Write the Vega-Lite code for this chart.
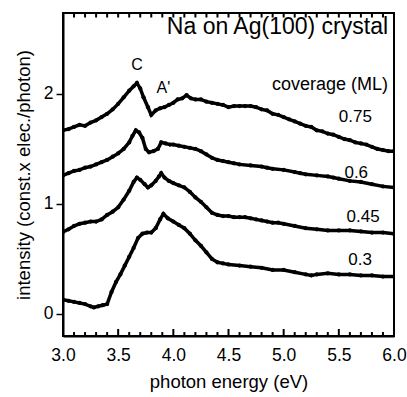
{
  "$schema": "https://vega.github.io/schema/vega-lite/v6.json",
  "width": 331,
  "height": 323,
  "autosize": {"type": "none"},
  "padding": {"left": 63, "top": 13, "right": 13, "bottom": 61},
  "background": "white",
  "config": {
    "view": {"stroke": "black", "strokeWidth": 2},
    "font": "Liberation Sans",
    "axis": {"domainColor": "black", "tickColor": "black", "labelColor": "black", "titleColor": "black", "grid": false, "labelFont": "Liberation Sans", "titleFont": "Liberation Sans", "titleFontWeight": "normal"}
  },
  "datasets": {
    "ticks": [
      {"e":3.1,"k":"minor"},{"e":3.2,"k":"minor"},{"e":3.3,"k":"minor"},{"e":3.4,"k":"minor"},{"e":3.5,"k":"major"},{"e":3.6,"k":"minor"},{"e":3.7,"k":"minor"},{"e":3.8,"k":"minor"},{"e":3.9,"k":"minor"},{"e":4.0,"k":"major"},{"e":4.1,"k":"minor"},{"e":4.2,"k":"minor"},{"e":4.3,"k":"minor"},{"e":4.4,"k":"minor"},{"e":4.5,"k":"major"},{"e":4.6,"k":"minor"},{"e":4.7,"k":"minor"},{"e":4.8,"k":"minor"},{"e":4.9,"k":"minor"},{"e":5.0,"k":"major"},{"e":5.1,"k":"minor"},{"e":5.2,"k":"minor"},{"e":5.3,"k":"minor"},{"e":5.4,"k":"minor"},{"e":5.5,"k":"major"},{"e":5.6,"k":"minor"},{"e":5.7,"k":"minor"},{"e":5.8,"k":"minor"},{"e":5.9,"k":"minor"}
    ],
    "spectra": [
      {"c":"0.75","e":3.00,"i":1.67},{"c":"0.75","e":3.05,"i":1.68},{"c":"0.75","e":3.10,"i":1.70},{"c":"0.75","e":3.15,"i":1.72},{"c":"0.75","e":3.20,"i":1.71},{"c":"0.75","e":3.25,"i":1.74},{"c":"0.75","e":3.30,"i":1.76},{"c":"0.75","e":3.35,"i":1.79},{"c":"0.75","e":3.40,"i":1.82},{"c":"0.75","e":3.45,"i":1.86},{"c":"0.75","e":3.50,"i":1.91},{"c":"0.75","e":3.55,"i":1.97},{"c":"0.75","e":3.60,"i":2.03},{"c":"0.75","e":3.64,"i":2.07},{"c":"0.75","e":3.67,"i":2.10},{"c":"0.75","e":3.70,"i":2.05},{"c":"0.75","e":3.73,"i":1.97},{"c":"0.75","e":3.77,"i":1.88},{"c":"0.75","e":3.80,"i":1.81},{"c":"0.75","e":3.84,"i":1.85},{"c":"0.75","e":3.88,"i":1.87},{"c":"0.75","e":3.92,"i":1.88},{"c":"0.75","e":3.96,"i":1.90},{"c":"0.75","e":4.00,"i":1.92},{"c":"0.75","e":4.04,"i":1.95},{"c":"0.75","e":4.08,"i":1.96},{"c":"0.75","e":4.12,"i":1.99},{"c":"0.75","e":4.16,"i":1.96},{"c":"0.75","e":4.20,"i":1.95},{"c":"0.75","e":4.25,"i":1.95},{"c":"0.75","e":4.30,"i":1.93},{"c":"0.75","e":4.35,"i":1.92},{"c":"0.75","e":4.40,"i":1.91},{"c":"0.75","e":4.45,"i":1.90},{"c":"0.75","e":4.50,"i":1.88},{"c":"0.75","e":4.55,"i":1.89},{"c":"0.75","e":4.60,"i":1.89},{"c":"0.75","e":4.65,"i":1.89},{"c":"0.75","e":4.70,"i":1.89},{"c":"0.75","e":4.75,"i":1.88},{"c":"0.75","e":4.80,"i":1.86},{"c":"0.75","e":4.85,"i":1.85},{"c":"0.75","e":4.90,"i":1.82},{"c":"0.75","e":4.95,"i":1.81},{"c":"0.75","e":5.00,"i":1.79},{"c":"0.75","e":5.05,"i":1.77},{"c":"0.75","e":5.10,"i":1.75},{"c":"0.75","e":5.15,"i":1.73},{"c":"0.75","e":5.20,"i":1.71},{"c":"0.75","e":5.25,"i":1.70},{"c":"0.75","e":5.30,"i":1.67},{"c":"0.75","e":5.35,"i":1.66},{"c":"0.75","e":5.40,"i":1.64},{"c":"0.75","e":5.45,"i":1.63},{"c":"0.75","e":5.50,"i":1.61},{"c":"0.75","e":5.55,"i":1.59},{"c":"0.75","e":5.60,"i":1.58},{"c":"0.75","e":5.65,"i":1.56},{"c":"0.75","e":5.70,"i":1.55},{"c":"0.75","e":5.75,"i":1.54},{"c":"0.75","e":5.80,"i":1.52},{"c":"0.75","e":5.85,"i":1.50},{"c":"0.75","e":5.90,"i":1.49},{"c":"0.75","e":5.95,"i":1.48},{"c":"0.75","e":6.00,"i":1.48},
      {"c":"0.6","e":3.00,"i":1.26},{"c":"0.6","e":3.05,"i":1.28},{"c":"0.6","e":3.10,"i":1.30},{"c":"0.6","e":3.15,"i":1.31},{"c":"0.6","e":3.20,"i":1.33},{"c":"0.6","e":3.25,"i":1.34},{"c":"0.6","e":3.30,"i":1.36},{"c":"0.6","e":3.35,"i":1.38},{"c":"0.6","e":3.40,"i":1.40},{"c":"0.6","e":3.45,"i":1.43},{"c":"0.6","e":3.50,"i":1.46},{"c":"0.6","e":3.55,"i":1.50},{"c":"0.6","e":3.60,"i":1.56},{"c":"0.6","e":3.63,"i":1.62},{"c":"0.6","e":3.66,"i":1.67},{"c":"0.6","e":3.69,"i":1.65},{"c":"0.6","e":3.72,"i":1.60},{"c":"0.6","e":3.75,"i":1.50},{"c":"0.6","e":3.78,"i":1.47},{"c":"0.6","e":3.82,"i":1.48},{"c":"0.6","e":3.86,"i":1.50},{"c":"0.6","e":3.89,"i":1.56},{"c":"0.6","e":3.93,"i":1.55},{"c":"0.6","e":3.97,"i":1.54},{"c":"0.6","e":4.00,"i":1.54},{"c":"0.6","e":4.05,"i":1.53},{"c":"0.6","e":4.10,"i":1.52},{"c":"0.6","e":4.15,"i":1.51},{"c":"0.6","e":4.20,"i":1.50},{"c":"0.6","e":4.25,"i":1.48},{"c":"0.6","e":4.30,"i":1.45},{"c":"0.6","e":4.35,"i":1.42},{"c":"0.6","e":4.40,"i":1.40},{"c":"0.6","e":4.45,"i":1.39},{"c":"0.6","e":4.50,"i":1.38},{"c":"0.6","e":4.55,"i":1.37},{"c":"0.6","e":4.60,"i":1.36},{"c":"0.6","e":4.70,"i":1.35},{"c":"0.6","e":4.80,"i":1.34},{"c":"0.6","e":4.85,"i":1.33},{"c":"0.6","e":4.90,"i":1.32},{"c":"0.6","e":5.00,"i":1.31},{"c":"0.6","e":5.10,"i":1.29},{"c":"0.6","e":5.15,"i":1.28},{"c":"0.6","e":5.20,"i":1.27},{"c":"0.6","e":5.30,"i":1.26},{"c":"0.6","e":5.40,"i":1.25},{"c":"0.6","e":5.45,"i":1.24},{"c":"0.6","e":5.50,"i":1.23},{"c":"0.6","e":5.60,"i":1.21},{"c":"0.6","e":5.70,"i":1.20},{"c":"0.6","e":5.80,"i":1.18},{"c":"0.6","e":5.90,"i":1.16},{"c":"0.6","e":6.00,"i":1.15},
      {"c":"0.45","e":3.00,"i":0.745},{"c":"0.45","e":3.05,"i":0.77},{"c":"0.45","e":3.10,"i":0.80},{"c":"0.45","e":3.15,"i":0.82},{"c":"0.45","e":3.20,"i":0.83},{"c":"0.45","e":3.25,"i":0.84},{"c":"0.45","e":3.30,"i":0.84},{"c":"0.45","e":3.35,"i":0.86},{"c":"0.45","e":3.40,"i":0.90},{"c":"0.45","e":3.45,"i":0.93},{"c":"0.45","e":3.50,"i":0.97},{"c":"0.45","e":3.55,"i":1.04},{"c":"0.45","e":3.60,"i":1.12},{"c":"0.45","e":3.64,"i":1.20},{"c":"0.45","e":3.67,"i":1.24},{"c":"0.45","e":3.70,"i":1.22},{"c":"0.45","e":3.74,"i":1.18},{"c":"0.45","e":3.77,"i":1.15},{"c":"0.45","e":3.80,"i":1.17},{"c":"0.45","e":3.84,"i":1.21},{"c":"0.45","e":3.87,"i":1.25},{"c":"0.45","e":3.89,"i":1.28},{"c":"0.45","e":3.92,"i":1.24},{"c":"0.45","e":3.96,"i":1.21},{"c":"0.45","e":4.00,"i":1.19},{"c":"0.45","e":4.05,"i":1.17},{"c":"0.45","e":4.10,"i":1.15},{"c":"0.45","e":4.15,"i":1.11},{"c":"0.45","e":4.20,"i":1.06},{"c":"0.45","e":4.25,"i":1.02},{"c":"0.45","e":4.30,"i":0.97},{"c":"0.45","e":4.35,"i":0.92},{"c":"0.45","e":4.40,"i":0.90},{"c":"0.45","e":4.45,"i":0.89},{"c":"0.45","e":4.50,"i":0.89},{"c":"0.45","e":4.55,"i":0.88},{"c":"0.45","e":4.60,"i":0.88},{"c":"0.45","e":4.65,"i":0.88},{"c":"0.45","e":4.70,"i":0.87},{"c":"0.45","e":4.75,"i":0.86},{"c":"0.45","e":4.80,"i":0.85},{"c":"0.45","e":4.85,"i":0.84},{"c":"0.45","e":4.90,"i":0.83},{"c":"0.45","e":4.95,"i":0.83},{"c":"0.45","e":5.00,"i":0.82},{"c":"0.45","e":5.10,"i":0.80},{"c":"0.45","e":5.20,"i":0.78},{"c":"0.45","e":5.30,"i":0.77},{"c":"0.45","e":5.40,"i":0.76},{"c":"0.45","e":5.50,"i":0.76},{"c":"0.45","e":5.60,"i":0.76},{"c":"0.45","e":5.70,"i":0.75},{"c":"0.45","e":5.80,"i":0.74},{"c":"0.45","e":5.90,"i":0.74},{"c":"0.45","e":6.00,"i":0.73},
      {"c":"0.3","e":3.00,"i":0.13},{"c":"0.3","e":3.05,"i":0.12},{"c":"0.3","e":3.10,"i":0.11},{"c":"0.3","e":3.15,"i":0.10},{"c":"0.3","e":3.20,"i":0.09},{"c":"0.3","e":3.25,"i":0.07},{"c":"0.3","e":3.28,"i":0.06},{"c":"0.3","e":3.32,"i":0.07},{"c":"0.3","e":3.36,"i":0.08},{"c":"0.3","e":3.40,"i":0.09},{"c":"0.3","e":3.44,"i":0.20},{"c":"0.3","e":3.48,"i":0.29},{"c":"0.3","e":3.52,"i":0.36},{"c":"0.3","e":3.56,"i":0.44},{"c":"0.3","e":3.60,"i":0.52},{"c":"0.3","e":3.64,"i":0.60},{"c":"0.3","e":3.68,"i":0.69},{"c":"0.3","e":3.72,"i":0.73},{"c":"0.3","e":3.76,"i":0.74},{"c":"0.3","e":3.80,"i":0.74},{"c":"0.3","e":3.84,"i":0.78},{"c":"0.3","e":3.88,"i":0.86},{"c":"0.3","e":3.91,"i":0.91},{"c":"0.3","e":3.95,"i":0.87},{"c":"0.3","e":4.00,"i":0.84},{"c":"0.3","e":4.05,"i":0.81},{"c":"0.3","e":4.10,"i":0.78},{"c":"0.3","e":4.15,"i":0.73},{"c":"0.3","e":4.20,"i":0.67},{"c":"0.3","e":4.25,"i":0.62},{"c":"0.3","e":4.30,"i":0.56},{"c":"0.3","e":4.35,"i":0.50},{"c":"0.3","e":4.40,"i":0.47},{"c":"0.3","e":4.45,"i":0.46},{"c":"0.3","e":4.50,"i":0.45},{"c":"0.3","e":4.60,"i":0.44},{"c":"0.3","e":4.70,"i":0.43},{"c":"0.3","e":4.80,"i":0.42},{"c":"0.3","e":4.90,"i":0.40},{"c":"0.3","e":5.00,"i":0.40},{"c":"0.3","e":5.10,"i":0.38},{"c":"0.3","e":5.20,"i":0.36},{"c":"0.3","e":5.25,"i":0.35},{"c":"0.3","e":5.30,"i":0.36},{"c":"0.3","e":5.40,"i":0.37},{"c":"0.3","e":5.50,"i":0.36},{"c":"0.3","e":5.60,"i":0.36},{"c":"0.3","e":5.70,"i":0.35},{"c":"0.3","e":5.80,"i":0.35},{"c":"0.3","e":5.90,"i":0.34},{"c":"0.3","e":6.00,"i":0.34}
    ]
  },
  "layer": [
    {
      "data": {"name": "spectra"},
      "mark": {"type": "line", "color": "black", "strokeWidth": 3.5, "clip": true, "point": {"filled": true, "size": 18, "color": "black"}},
      "encoding": {
        "x": {"field": "e", "type": "quantitative", "scale": {"domain": [3, 6], "nice": false, "zero": false},
          "axis": {"orient": "bottom", "values": [3, 3.5, 4, 4.5, 5, 5.5, 6], "format": ".1f", "title": "photon energy (eV)", "ticks": false, "domainWidth": 2, "labelPadding": 10, "labelFontSize": 17.5, "titleFontSize": 18.5, "titlePadding": 9, "labelFlush": false, "labelOverlap": false}},
        "y": {"field": "i", "type": "quantitative", "scale": {"domain": [-0.2, 2.736], "nice": false, "zero": false},
          "axis": {"orient": "left", "values": [0, 1, 2], "format": "d", "title": "intensity (const.x elec./photon)", "tickSize": 7, "tickWidth": 1.5, "domainWidth": 2, "labelPadding": 3, "labelFontSize": 17.5, "titleFontSize": 18.5, "titlePadding": 10, "labelFlush": false}},
        "detail": {"field": "c", "type": "nominal"}
      }
    },
    {
      "data": {"name": "ticks"},
      "transform": [{"filter": "datum.k === 'major'"}],
      "mark": {"type": "rule", "color": "black", "strokeWidth": 2},
      "encoding": {
        "x": {"field": "e", "type": "quantitative"},
        "y": {"datum": -0.2, "type": "quantitative"},
        "y2": {"datum": -0.136}
      }
    },
    {
      "data": {"name": "ticks"},
      "transform": [{"filter": "datum.k === 'minor'"}],
      "mark": {"type": "rule", "color": "black", "strokeWidth": 2},
      "encoding": {
        "x": {"field": "e", "type": "quantitative"},
        "y": {"datum": -0.2, "type": "quantitative"},
        "y2": {"datum": -0.164}
      }
    },
    {
      "data": {"name": "ticks"},
      "mark": {"type": "rule", "color": "black", "strokeWidth": 2},
      "encoding": {
        "x": {"field": "e", "type": "quantitative"},
        "y": {"datum": 2.736, "type": "quantitative"},
        "y2": {"datum": 2.695}
      }
    },
    {
      "data": {"values": [{"t": "Na on Ag(100) crystal", "e": 5.946, "i": 2.61}]},
      "mark": {"type": "text", "align": "right", "baseline": "middle", "fontSize": 23, "color": "black"},
      "encoding": {
        "x": {"field": "e", "type": "quantitative"},
        "y": {"field": "i", "type": "quantitative"},
        "text": {"field": "t"}
      }
    },
    {
      "data": {"values": [{"t": "coverage (ML)", "e": 5.946, "i": 2.08}]},
      "mark": {"type": "text", "align": "right", "baseline": "middle", "fontSize": 18, "color": "black"},
      "encoding": {
        "x": {"field": "e", "type": "quantitative"},
        "y": {"field": "i", "type": "quantitative"},
        "text": {"field": "t"}
      }
    },
    {
      "data": {"values": [{"t": "0.75", "e": 5.80, "i": 1.79}, {"t": "0.6", "e": 5.765, "i": 1.28}, {"t": "0.45", "e": 5.87, "i": 0.88}, {"t": "0.3", "e": 5.80, "i": 0.49}]},
      "mark": {"type": "text", "align": "right", "baseline": "middle", "fontSize": 17, "color": "black"},
      "encoding": {
        "x": {"field": "e", "type": "quantitative"},
        "y": {"field": "i", "type": "quantitative"},
        "text": {"field": "t"}
      }
    },
    {
      "data": {"values": [{"t": "C", "e": 3.67, "i": 2.26}, {"t": "A'", "e": 3.91, "i": 2.05}]},
      "mark": {"type": "text", "align": "center", "baseline": "middle", "fontSize": 16, "color": "black"},
      "encoding": {
        "x": {"field": "e", "type": "quantitative"},
        "y": {"field": "i", "type": "quantitative"},
        "text": {"field": "t"}
      }
    }
  ]
}
